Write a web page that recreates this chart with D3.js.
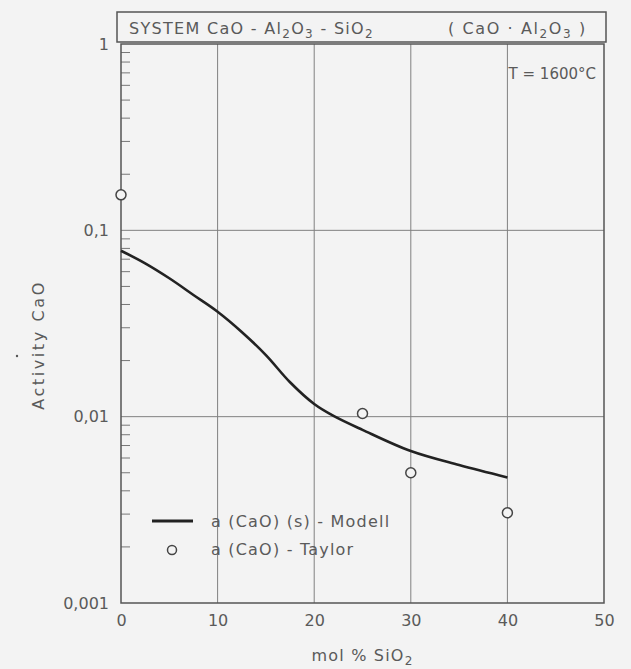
<!DOCTYPE html>
<meta charset="utf-8">
<style>
body { margin: 0; background: #f3f3f3; }
text {
  font-family: "DejaVu Sans", sans-serif;
  fill: #5a5a5a;
}
.grid line { stroke: #808080; stroke-width: 1; }
.minor line { stroke: #777; stroke-width: 1; }
</style>
<svg width="631" height="669"></svg>
<script src="https://d3js.org/d3.v7.min.js"></script>
<script>

// model curve a(CaO)(s) - Modell
var modelX = [0, 2.5, 5, 7.5, 10, 12.5, 15, 17.5, 20, 22, 25, 30, 35, 40];
var modelY = [0.0777, 0.0665, 0.0553, 0.045, 0.0366, 0.0285, 0.0214, 0.0153, 0.0117, 0.0101, 0.0085, 0.00654, 0.0055, 0.00472];

// measured a(CaO) - Taylor
var taylorX = [0, 25, 30, 40];
var taylorY = [0.155, 0.0104, 0.0050, 0.00305];

var xTicks = [0, 10, 20, 30, 40, 50];
var yTicks = [1, 0.1, 0.01, 0.001];
var yTickLabels = ["1", "0,1", "0,01", "0,001"];

var svg = d3.select("svg");
svg.append("rect").attr("width", 631).attr("height", 669).attr("fill", "#f3f3f3");

var x = d3.scaleLinear().domain([0, 50]).range([121, 604]);
var y = d3.scaleLog().domain([0.001, 1]).range([603, 44]);

// grid
var grid = svg.append("g").attr("class", "grid");
grid.selectAll(".gx")
    .data(xTicks.slice(1, -1))
    .enter().append("line")
      .attr("x1", function(d) { return x(d); })
      .attr("x2", function(d) { return x(d); })
      .attr("y1", y(1))
      .attr("y2", y(0.001));
grid.selectAll(".gy")
    .data([0.1, 0.01])
    .enter().append("line")
      .attr("x1", x(0))
      .attr("x2", x(50))
      .attr("y1", function(d) { return y(d); })
      .attr("y2", function(d) { return y(d); });

// minor ticks on the left axis
var minor = y.ticks().filter(function(d) {
  var l = Math.log10(d);
  return Math.abs(l - Math.round(l)) > 1e-6;
});
svg.append("g").attr("class", "minor")
  .selectAll("line")
  .data(minor)
  .enter().append("line")
    .attr("x1", x(0))
    .attr("x2", x(0) + 9)
    .attr("y1", function(d) { return y(d); })
    .attr("y2", function(d) { return y(d); });

// frame
svg.append("rect")
    .attr("x", x(0)).attr("y", y(1))
    .attr("width", x(50) - x(0)).attr("height", y(0.001) - y(1))
    .attr("fill", "none").attr("stroke", "#555").attr("stroke-width", 1.5);

// axes (labels only)
var xAxis = svg.append("g")
    .attr("transform", "translate(0," + y(0.001) + ")")
    .call(d3.axisBottom(x).tickValues(xTicks).tickSize(0).tickPadding(12));
var yAxis = svg.append("g")
    .attr("transform", "translate(" + x(0) + ",0)")
    .call(d3.axisLeft(y).tickValues(yTicks).tickSize(0).tickPadding(12)
      .tickFormat(function(d, i) { return yTickLabels[i]; }));
[xAxis, yAxis].forEach(function(a) {
  a.select(".domain").remove();
  a.selectAll("text").attr("font-size", 16).attr("fill", "#5a5a5a")
    .attr("font-family", "DejaVu Sans, sans-serif");
});

// model line
var line = d3.line()
    .x(function(d) { return x(d[0]); })
    .y(function(d) { return y(d[1]); })
    .curve(d3.curveCatmullRom);
svg.append("path")
    .datum(modelX.map(function(v, i) { return [v, modelY[i]]; }))
    .attr("d", line)
    .attr("fill", "none")
    .attr("stroke", "#222")
    .attr("stroke-width", 2.6);

// Taylor points
svg.selectAll(".pt")
    .data(taylorX.map(function(v, i) { return [v, taylorY[i]]; }))
    .enter().append("circle")
      .attr("cx", function(d) { return x(d[0]); })
      .attr("cy", function(d) { return y(d[1]); })
      .attr("r", 5)
      .attr("fill", "#f3f3f3")
      .attr("stroke", "#444")
      .attr("stroke-width", 1.5);

// title box
svg.append("rect")
    .attr("x", 117).attr("y", 12).attr("width", 489).attr("height", 30)
    .attr("fill", "none").attr("stroke", "#555").attr("stroke-width", 1.5);
var t1 = svg.append("text").attr("x", 129).attr("y", 34).attr("font-size", 16)
    .attr("letter-spacing", 1.3);
t1.append("tspan").text("SYSTEM   CaO - Al");
t1.append("tspan").attr("font-size", 12).attr("dy", 4).text("2");
t1.append("tspan").attr("dy", -4).text("O");
t1.append("tspan").attr("font-size", 12).attr("dy", 4).text("3");
t1.append("tspan").attr("dy", -4).text(" - SiO");
t1.append("tspan").attr("font-size", 12).attr("dy", 4).text("2");
var t2 = svg.append("text").attr("x", 448).attr("y", 34).attr("font-size", 16)
    .attr("letter-spacing", 1.6);
t2.append("tspan").text("( CaO · Al");
t2.append("tspan").attr("font-size", 12).attr("dy", 4).text("2");
t2.append("tspan").attr("dy", -4).text("O");
t2.append("tspan").attr("font-size", 12).attr("dy", 4).text("3");
t2.append("tspan").attr("dy", -4).text(" )");

// temperature
svg.append("text").attr("x", 596).attr("y", 79).attr("font-size", 15)
    .attr("font-family", "DejaVu Sans Condensed, sans-serif")
    .attr("text-anchor", "end")
    .text("T = 1600°C");

// axis titles
var xt = svg.append("text").attr("x", x(25)).attr("y", 661)
    .attr("text-anchor", "middle").attr("font-size", 16)
    .attr("letter-spacing", 1.2);
xt.append("tspan").text("mol  %  SiO");
xt.append("tspan").attr("font-size", 12).attr("dy", 4).text("2");

svg.append("text")
    .attr("transform", "translate(44,345) rotate(-90)")
    .attr("text-anchor", "middle").attr("font-size", 16)
    .attr("letter-spacing", 2.6)
    .text("Activity   CaO");
svg.append("circle").attr("cx", 17).attr("cy", 356).attr("r", 1.2).attr("fill", "#555");

// legend
svg.append("line")
    .attr("x1", 152).attr("x2", 193).attr("y1", 521).attr("y2", 521)
    .attr("stroke", "#222").attr("stroke-width", 3);
svg.append("text").attr("x", 211).attr("y", 527).attr("font-size", 16)
    .attr("letter-spacing", 1.2)
    .text("a (CaO) (s) - Modell");
svg.append("circle").attr("cx", 172).attr("cy", 550).attr("r", 4.5)
    .attr("fill", "none").attr("stroke", "#444").attr("stroke-width", 1.5);
svg.append("text").attr("x", 211).attr("y", 555).attr("font-size", 16)
    .attr("letter-spacing", 1.2)
    .text("a (CaO) - Taylor");

</script>
